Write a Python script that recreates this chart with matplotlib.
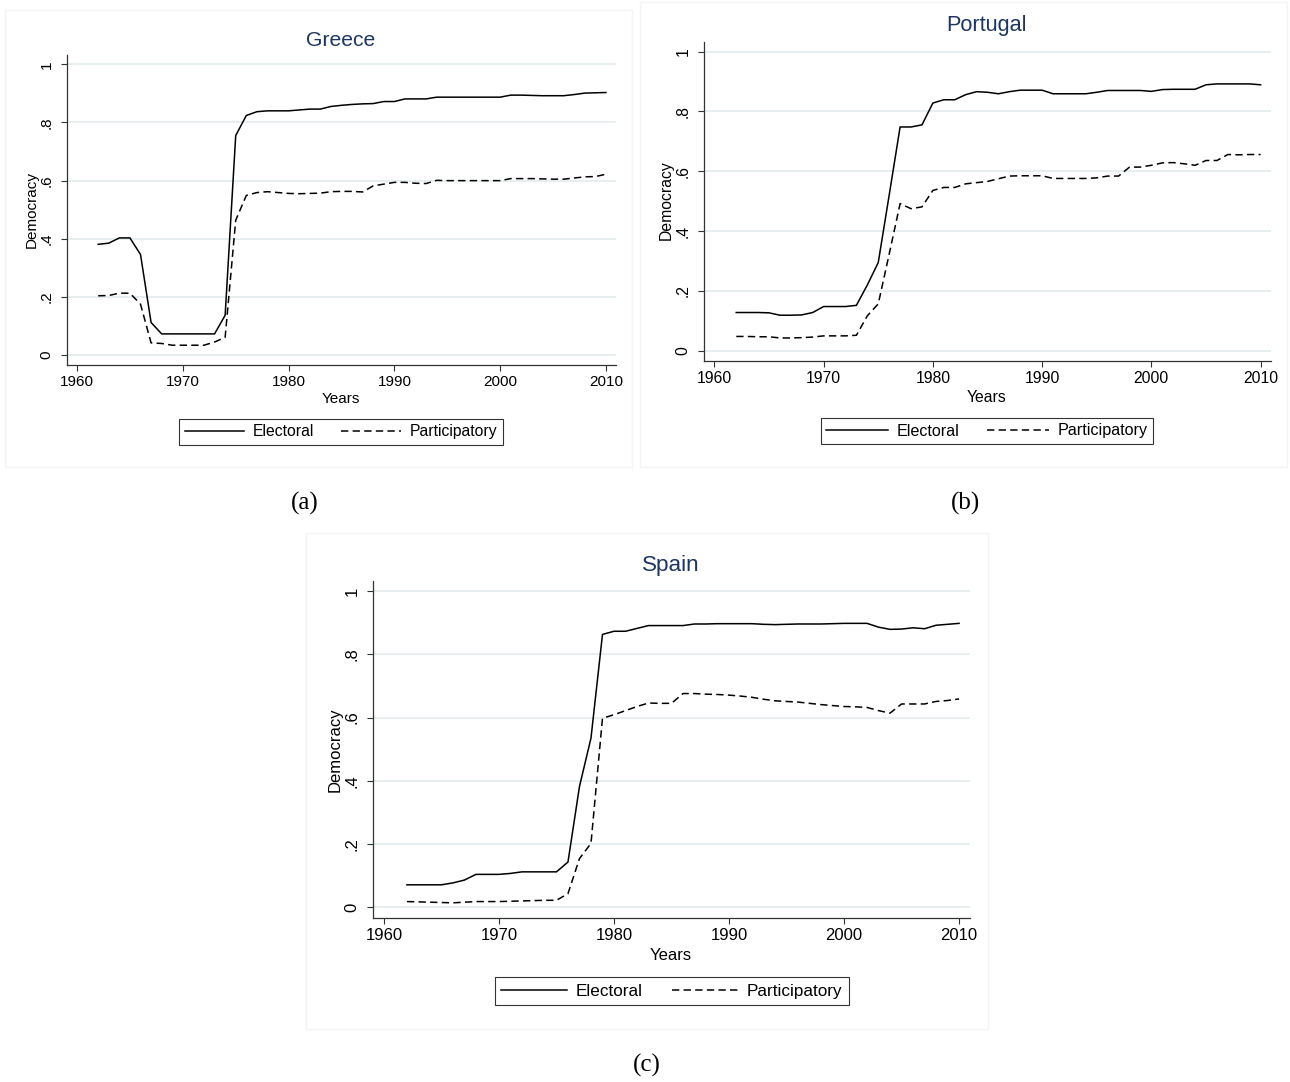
import numpy as np
import matplotlib
matplotlib.use("Agg")
import matplotlib.pyplot as plt
from matplotlib.patches import Rectangle
from matplotlib.lines import Line2D

plt.rcParams['font.family'] = ['Liberation Sans', 'DejaVu Sans']

years = list(range(1962, 2011))

greece_electoral = [
    0.381, 0.385, 0.403, 0.403, 0.346, 0.112, 0.073, 0.073, 0.073, 0.073,
    0.073, 0.073, 0.137, 0.755, 0.824, 0.837, 0.840, 0.840, 0.840, 0.843,
    0.846, 0.846, 0.855, 0.859, 0.862, 0.864, 0.865, 0.872, 0.872, 0.881,
    0.881, 0.881, 0.887, 0.887, 0.887, 0.887, 0.887, 0.887, 0.887, 0.894,
    0.894, 0.893, 0.892, 0.892, 0.892, 0.896, 0.901, 0.902, 0.903]
greece_participatory = [
    0.204, 0.205, 0.213, 0.213, 0.175, 0.042, 0.040, 0.034, 0.034, 0.034,
    0.034, 0.045, 0.061, 0.464, 0.549, 0.559, 0.562, 0.559, 0.556, 0.555,
    0.556, 0.557, 0.562, 0.563, 0.563, 0.561, 0.582, 0.588, 0.594, 0.594,
    0.591, 0.590, 0.601, 0.600, 0.600, 0.600, 0.600, 0.600, 0.600, 0.607,
    0.607, 0.607, 0.606, 0.605, 0.605, 0.609, 0.613, 0.614, 0.622]

portugal_electoral = [
    0.128, 0.128, 0.128, 0.127, 0.119, 0.119, 0.120, 0.128, 0.148, 0.148,
    0.148, 0.152, 0.220, 0.295, 0.520, 0.748, 0.748, 0.755, 0.828, 0.839,
    0.839, 0.856, 0.866, 0.864, 0.859, 0.866, 0.871, 0.871, 0.871, 0.859,
    0.859, 0.859, 0.859, 0.864, 0.870, 0.870, 0.870, 0.870, 0.867, 0.873,
    0.874, 0.874, 0.874, 0.889, 0.892, 0.892, 0.892, 0.892, 0.889]
portugal_participatory = [
    0.048, 0.048, 0.047, 0.047, 0.043, 0.043, 0.044, 0.046, 0.050, 0.050,
    0.050, 0.052, 0.117, 0.157, 0.323, 0.492, 0.475, 0.481, 0.536, 0.546,
    0.546, 0.558, 0.562, 0.566, 0.575, 0.584, 0.585, 0.585, 0.585, 0.576,
    0.576, 0.576, 0.576, 0.578, 0.584, 0.584, 0.614, 0.614, 0.620, 0.628,
    0.629, 0.625, 0.620, 0.636, 0.636, 0.656, 0.655, 0.656, 0.656]

spain_electoral = [
    0.071, 0.071, 0.071, 0.071, 0.077, 0.086, 0.104, 0.104, 0.104, 0.107,
    0.112, 0.112, 0.112, 0.112, 0.143, 0.382, 0.535, 0.863, 0.873, 0.873,
    0.882, 0.891, 0.891, 0.891, 0.891, 0.896, 0.896, 0.897, 0.897, 0.897,
    0.897, 0.895, 0.894, 0.895, 0.896, 0.896, 0.896, 0.897, 0.898, 0.898,
    0.898, 0.886, 0.879, 0.880, 0.884, 0.881, 0.892, 0.895, 0.898]
spain_participatory = [
    0.018, 0.017, 0.016, 0.015, 0.014, 0.016, 0.018, 0.018, 0.018, 0.019,
    0.020, 0.021, 0.022, 0.022, 0.043, 0.154, 0.202, 0.598, 0.609, 0.622,
    0.635, 0.646, 0.645, 0.645, 0.676, 0.676, 0.674, 0.673, 0.671, 0.668,
    0.664, 0.658, 0.653, 0.651, 0.649, 0.645, 0.641, 0.638, 0.635, 0.634,
    0.632, 0.622, 0.614, 0.643, 0.643, 0.643, 0.651, 0.654, 0.659]

x_ticks = [1960, 1970, 1980, 1990, 2000, 2010]
y_ticks = [0, 0.2, 0.4, 0.6, 0.8, 1.0]
y_tick_labels = ["0", ".2", ".4", ".6", ".8", "1"]
series_labels = ["Electoral", "Participatory"]

W, H = 1290, 1082
fig = plt.figure(figsize=(W / 100, H / 100), dpi=100)
fig.patch.set_facecolor("white")

TITLE_COLOR = "#1c3563"
GRID_COLOR = "#e6eef0"
DASH = (0, (4.8, 2.8))


def fx(px):
    return px / W


def fy(py):
    return 1 - py / H


def panel(box, axes_box, title, title_xy, xlabel_xy, ylabel_xy, legend_xy,
          elect, partic, fs, title_fs):
    # faint outer frame of the graph region
    bl, bt, br, bb = box
    fig.patches.append(Rectangle((fx(bl), fy(bb)), fx(br - bl), (bb - bt) / H,
                                 transform=fig.transFigure, fill=False,
                                 edgecolor="#f4f4f4", linewidth=1.0))
    l, t, r, b = axes_box
    ax = fig.add_axes([fx(l), fy(b), fx(r - l), (b - t) / H])
    ax.plot(years, elect, color="black", linewidth=1.1, solid_joinstyle="miter")
    ax.plot(years, partic, color="black", linewidth=1.1, linestyle=DASH)
    ax.set_xlim(1959.05, 2010.95)
    ax.set_ylim(-0.034, 1.032)
    ax.set_xticks(x_ticks)
    ax.set_yticks(y_ticks)
    ax.set_yticklabels(y_tick_labels, rotation=90, va="center")
    ax.tick_params(axis="both", direction="out", length=4.5, width=0.8,
                   color="#333333", labelsize=fs)
    ax.tick_params(axis="y", pad=5)
    ax.tick_params(axis="x", pad=3)
    for s in ("top", "right"):
        ax.spines[s].set_visible(False)
    for s in ("left", "bottom"):
        ax.spines[s].set_color("#333333")
        ax.spines[s].set_linewidth(0.9)
    ax.grid(axis="y", color=GRID_COLOR, linewidth=1.4)
    ax.set_axisbelow(True)

    fig.text(fx(title_xy[0]), fy(title_xy[1]), title, ha="center", va="center",
             fontsize=title_fs, color=TITLE_COLOR)
    fig.text(fx(xlabel_xy[0]), fy(xlabel_xy[1]), "Years", ha="center",
             va="center", fontsize=fs)
    fig.text(fx(ylabel_xy[0]), fy(ylabel_xy[1]), "Democracy", ha="center",
             va="center", fontsize=fs, rotation=90)

    handles = [Line2D([], [], color="black", linewidth=1.1),
               Line2D([], [], color="black", linewidth=1.1, linestyle=DASH)]
    leg = ax.legend(handles, series_labels, ncol=2, loc="center",
                    bbox_to_anchor=(fx(legend_xy[0]), fy(legend_xy[1])),
                    bbox_transform=fig.transFigure, fontsize=fs * 1.03,
                    frameon=True, fancybox=False, handlelength=3.8,
                    handletextpad=0.55, columnspacing=1.7, borderpad=0.35,
                    borderaxespad=0)
    leg.get_frame().set_edgecolor("black")
    leg.get_frame().set_linewidth(0.8)
    return ax


panel((5, 10, 632, 467), (67, 55, 616, 365), "Greece", (341, 40), (341, 399),
      (32, 210), (341, 432), greece_electoral, greece_participatory, 11.0,
      15.2)
panel((640, 2, 1287, 467), (704, 42, 1271, 361), "Portugal", (987, 25),
      (987, 397), (666, 200), (987, 431), portugal_electoral,
      portugal_participatory, 11.3, 15.6)
panel((306, 533, 988, 1029), (373, 581, 970, 918), "Spain", (671, 565),
      (671, 955), (335, 750), (672, 991), spain_electoral,
      spain_participatory, 12.0, 16.2)

cap_font = ['Liberation Serif', 'DejaVu Serif']
fig.text(fx(305), fy(503), "(a)", ha="center", va="center", fontsize=18,
         family=cap_font)
fig.text(fx(966), fy(503), "(b)", ha="center", va="center", fontsize=18,
         family=cap_font)
fig.text(fx(647), fy(1065), "(c)", ha="center", va="center", fontsize=18,
         family=cap_font)

fig.savefig("out.png", dpi=100, facecolor="white")
